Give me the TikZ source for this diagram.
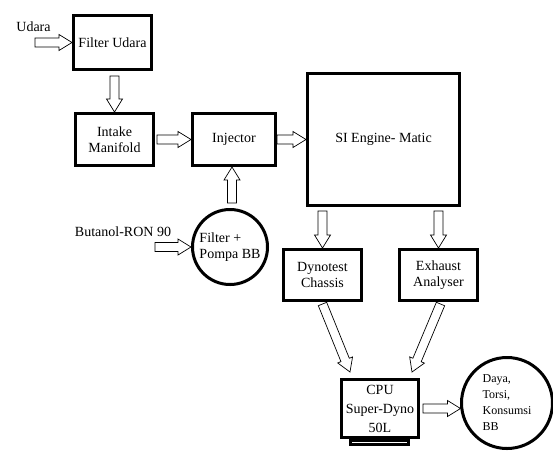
\documentclass[tikz,border=0pt]{standalone}
\usepackage{fontspec}
\setmainfont{Liberation Serif}
\usetikzlibrary{calc,shapes.geometric}
\tikzset{
  fl/box/.style={
    draw=black,
    line width=3pt,
    fill=white,
    align=center,
    inner sep=0pt,
    font=\fontsize{14}{16}\selectfont
  },
  fl/round/.style={
    circle,
    draw=black,
    line width=3pt,
    fill=white,
    align=left,
    inner sep=0pt,
    font=\fontsize{14}{16}\selectfont
  },
  fl/arrow/.style={draw=black, line width=0.7pt, fill=white, line join=miter},
  fl/label/.style={font=\fontsize{14}{16}\selectfont}
}
% hollow block arrow from #1 to #2
\newcommand\blockarrow[2]{%
  \path let \p1=($#2-#1$), \n1={veclen(\x1,\y1)}, \n2={atan2(\y1,\x1)} in
    \pgfextra{\xdef\arrlen{\n1}\xdef\arrang{\n2}};
  \draw[fl/arrow, shift={#1}, rotate=\arrang]
    (0pt,4.5pt) -- ({\arrlen-13pt},4.5pt) -- ({\arrlen-13pt},8pt)
    -- ({\arrlen+0pt},0pt) -- ({\arrlen-13pt},-8pt) -- ({\arrlen-13pt},-4.5pt)
    -- (0pt,-4.5pt) -- cycle;}

\begin{document}
\begin{tikzpicture}[x=1pt,y=-1pt]
  \useasboundingbox (0,0) rectangle (553,451);
  % blocks
  \node[fl/box,minimum width=78,minimum height=54] (fu) at (112.5,42.5) {Filter Udara};
  \node[fl/box,minimum width=78,minimum height=52] (im) at (114.5,139.5) {Intake\\Manifold};
  \node[fl/box,minimum width=83,minimum height=52] (inj) at (234,139.5) {Injector};
  \node[fl/round,minimum size=75] (fp) at (230,247) {Filter +\\Pompa BB};
  \node[fl/box,minimum width=152,minimum height=132] (si) at (383.5,139.5) {SI Engine- Matic};
  \node[fl/box,minimum width=78,minimum height=51] (dc) at (322.5,275) {Dynotest\\Chassis};
  \node[fl/box,minimum width=78,minimum height=51] (ea) at (438.5,275) {Exhaust\\Analyser};
  \node[draw=black,line width=3pt,inner sep=0pt,minimum width=58,minimum height=4] (base) at (379.5,442.5) {};
  \node[fl/box,minimum width=77,minimum height=58,font=\fontsize{14}{19}\selectfont] (cpu) at (380,408.5) {CPU\\Super-Dyno\\50L};
  \node[fl/round,minimum size=91,font=\fontsize{12}{16}\selectfont] (out) at (507,403) {Daya,\\Torsi,\\Konsumsi\\BB};
  % labels
  \node[fl/label] (udara) at (33.5,27) {Udara};
  \node[fl/label] (butanol) at (123,232) {Butanol-RON 90};
  % arrow ends
  \coordinate (udaraIn) at (35,42.5);
  \coordinate (butIn) at (155,247);
  \coordinate (fuS) at ($(fu.south)+(2,5)$);
  \coordinate (imE) at ($(im.east)+(2,0)$);
  \coordinate (fpN) at ($(fp.north)+(2,-5)$);
  \coordinate (siL) at ($(dc.north |- si.south)+(0,4)$);
  \coordinate (siR) at ($(ea.north |- si.south)+(0,4)$);
  \coordinate (dcS) at ($(dc.south)+(0,2)$);
  \coordinate (eaS) at ($(ea.south)+(2,2)$);
  \coordinate (cpuL) at ($(cpu.north)+(-30,-6)$);
  \coordinate (cpuR) at ($(cpu.north)+(32,-6)$);
  \coordinate (cpuE) at ($(cpu.east)+(3,0)$);
  \coordinate (outW) at ($(out.west |- cpuE)+(0.5,0)$);
  % arrows
  \blockarrow{(udaraIn)}{(fu.west)}
  \blockarrow{(fuS)}{(im.north)}
  \blockarrow{(imE)}{(inj.west)}
  \blockarrow{(inj.east)}{(si.west)}
  \blockarrow{(butIn)}{(fp.west)}
  \blockarrow{(fpN)}{(inj.south -| fpN)}
  \blockarrow{(siL)}{(dc.north)}
  \blockarrow{(siR)}{(ea.north)}
  \blockarrow{(dcS)}{(cpuL)}
  \blockarrow{(eaS)}{(cpuR)}
  \blockarrow{(cpuE)}{(outW)}
\end{tikzpicture}
\end{document}
